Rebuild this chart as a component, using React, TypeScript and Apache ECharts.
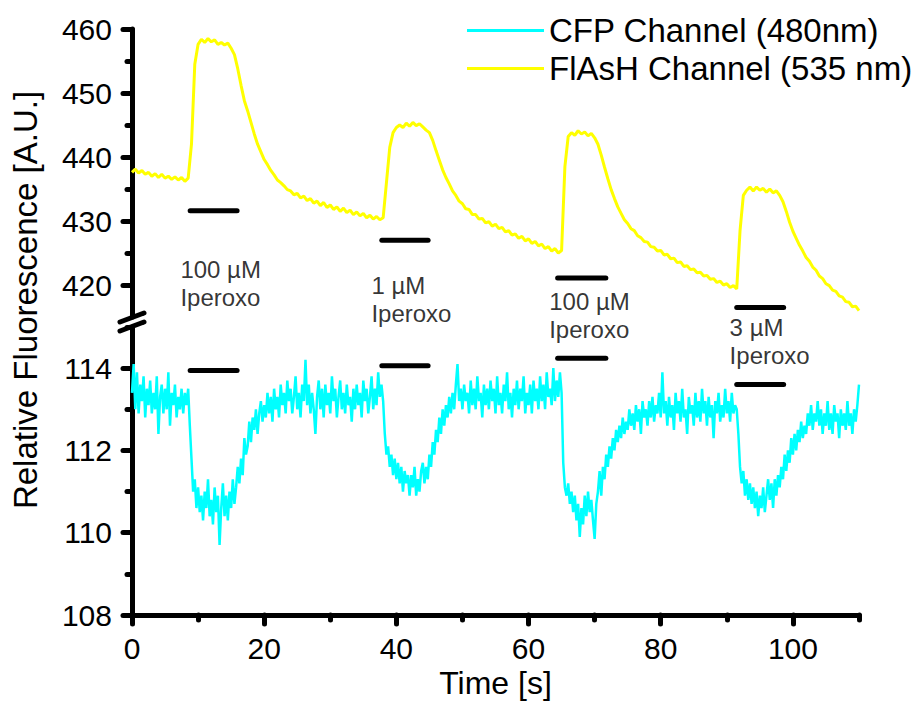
import React, { useEffect, useRef } from "react";
import * as echarts from "echarts";

// ---------- data ----------
const FLASH_STEP = 0.5; // seconds between FlAsH samples, starting at t = 0
const CFP_STEP = 0.25; // seconds between CFP samples, starting at t = 0

// FlAsH channel (535 nm), upper axis segment
const flashValues = [
  437.6, 438.1, 437.5, 437.9, 437.3, 437.6, 437.0, 437.4, 436.8, 437.3,
  436.7, 437.0, 436.5, 436.9, 436.4, 436.8, 436.2, 436.7, 442.0, 454.5,
  457.6, 458.4, 457.9, 458.5, 458.0, 458.3, 457.6, 457.9, 457.5, 457.8,
  457.0, 456.0, 453.8, 451.2, 448.8, 447.2, 445.4, 443.6, 442.0, 440.8,
  439.6, 438.8, 437.9, 437.2, 436.4, 436.0, 435.5, 434.9, 434.7, 434.1,
  434.3, 433.6, 433.9, 433.2, 433.5, 432.8, 433.1, 432.4, 432.9, 432.1,
  432.5, 431.8, 432.2, 431.5, 432.0, 431.3, 431.7, 431.0, 431.4, 430.8,
  431.2, 430.5, 430.9, 430.3, 430.7, 430.2, 430.5, 436.0, 441.5, 443.8,
  444.6, 445.0, 444.6, 445.3, 444.8, 445.4, 444.9, 445.2, 444.7, 444.2,
  443.8, 442.6, 441.0, 439.5, 438.0, 436.8, 435.8, 434.7, 434.0, 433.1,
  432.7, 431.9, 431.8, 431.0, 431.0, 430.3, 430.4, 429.7, 429.9, 429.2,
  429.5, 428.8, 429.0, 428.3, 428.5, 427.8, 428.0, 427.3, 427.6, 426.9,
  427.2, 426.5, 426.8, 426.1, 426.4, 425.7, 426.0, 425.3, 425.7, 425.0,
  425.4, 438.5, 443.2, 443.8, 443.4, 444.1, 443.6, 443.9, 443.3, 443.7,
  443.0, 442.0, 440.3, 438.4, 436.6, 434.9, 433.5, 432.2, 431.2, 430.2,
  429.6, 428.8, 428.5, 427.7, 427.4, 426.8, 426.7, 426.0, 425.9, 425.3,
  425.4, 424.7, 424.8, 424.1, 424.2, 423.5, 423.6, 422.9, 423.0, 422.4,
  422.5, 421.9, 422.0, 421.4, 421.5, 420.9, 421.0, 420.4, 420.6, 420.0,
  420.2, 419.6, 419.9, 419.4, 428.5, 434.0, 434.8, 435.3, 434.7, 435.3,
  434.8, 435.1, 434.5, 435.0, 434.4, 434.7, 434.0, 433.0, 431.5, 429.8,
  428.4, 427.3, 426.2, 425.3, 424.3, 423.7, 422.8, 422.3, 421.4, 421.0,
  420.2, 419.9, 419.2, 419.0, 418.3, 418.1, 417.4, 417.3, 416.6, 416.7,
  416.0,
];

// CFP channel (480 nm), lower axis segment
const cfpValues = [
  113.4, 114.1, 113.0, 113.9, 112.9, 113.6, 113.2, 113.8,
  112.8, 113.5, 113.1, 113.7, 112.9, 113.4, 113.0, 113.8,
  112.4, 113.3, 113.6, 112.9, 113.5, 113.0, 113.9, 112.6,
  113.4, 113.1, 113.6, 112.8, 113.3, 113.0, 113.5, 112.9,
  113.4, 113.1, 113.5, 112.6, 111.8, 111.0, 111.3, 110.6,
  111.1, 110.5, 110.9, 110.3, 111.0, 110.6, 111.3, 110.4,
  110.8, 110.2, 111.1, 110.5, 110.9, 109.7, 110.6, 111.2,
  110.4, 110.9, 110.3, 111.0, 110.6, 111.3, 110.7, 111.1,
  111.6, 111.2, 111.8, 111.4, 112.3, 111.9, 112.1, 112.7,
  112.2, 112.8, 112.5, 113.0, 112.4, 112.9, 113.2, 112.7,
  113.1, 112.8, 113.4, 112.9, 113.3, 112.7, 113.5, 113.0,
  113.3, 112.8, 113.6, 113.1, 113.4, 112.9, 113.7, 113.2,
  113.5, 112.9, 113.3, 113.8, 113.0, 113.4, 112.8, 113.6,
  113.2, 114.2, 113.1, 113.6, 112.9, 113.4, 113.0, 112.4,
  113.3, 113.7, 113.0, 113.5, 112.8, 113.6, 113.1, 113.4,
  112.9, 113.8, 113.2, 113.5, 112.8, 113.3, 113.7, 113.0,
  113.4, 112.9, 113.6, 113.1, 113.3, 112.7, 113.5, 113.0,
  113.6, 113.1, 113.4, 112.8, 113.7, 113.2, 113.5, 112.9,
  113.3, 113.8, 113.0, 113.5, 113.1, 113.9, 113.3, 113.6,
  113.2, 112.4, 111.9, 112.1, 111.6, 111.9, 111.4, 111.8,
  111.3, 111.7, 111.2, 111.6, 111.0, 111.5, 111.2, 111.4,
  110.9, 111.4, 111.1, 111.6, 110.9, 111.3, 111.0, 111.5,
  111.7, 111.2, 111.6, 111.3, 111.9, 111.6, 112.2, 111.9,
  112.5, 112.2, 112.8, 112.4, 113.0, 112.6, 113.1, 112.8,
  113.3, 112.9, 113.4, 113.0, 113.6, 114.1, 113.2, 113.5,
  113.0, 113.6, 113.2, 113.4, 112.9, 113.7, 113.1, 113.5,
  113.0, 113.8, 113.2, 113.4, 112.8, 113.6, 113.1, 113.5,
  113.0, 113.7, 113.2, 113.5, 112.9, 113.8, 113.1, 113.4,
  112.9, 113.6, 113.2, 113.9, 113.0, 113.4, 112.8, 113.5,
  113.1, 113.7, 113.0, 113.5, 113.2, 113.8, 112.9, 113.4,
  113.1, 113.6, 112.9, 113.7, 113.2, 113.5, 113.0, 113.8,
  113.2, 113.6, 113.0, 113.9, 113.3, 113.5, 113.1, 114.0,
  113.2, 113.7, 113.3, 113.9, 113.4, 111.7, 111.1, 110.9,
  111.2, 110.7, 111.0, 110.5, 110.9, 110.3, 110.7, 109.9,
  110.6, 110.2, 110.9, 110.4, 111.0, 110.5, 110.8, 110.3,
  109.85, 110.7, 111.0, 111.5, 110.9, 111.6, 111.3, 111.9,
  111.6, 112.1, 111.8, 112.3, 112.0, 112.5, 112.2, 112.6,
  112.3, 112.8, 112.4, 112.7, 112.5, 113.0, 112.6, 112.9,
  112.5, 113.1, 112.7, 113.0, 112.4, 113.2, 112.8, 113.0,
  112.6, 113.2, 112.8, 113.3, 112.7, 113.1, 112.9, 113.4,
  112.8, 113.9, 112.9, 113.2, 112.6, 113.3, 112.8, 113.1,
  112.5, 113.4, 112.9, 113.2, 112.7, 113.5, 112.8, 113.0,
  112.4, 113.3, 112.9, 113.1, 112.6, 113.4, 112.8, 113.2,
  112.7, 113.5, 112.9, 113.2, 112.6, 113.3, 112.8, 113.1,
  112.3, 113.2, 112.9, 113.4, 112.7, 113.1, 112.8, 113.5,
  112.9, 113.2, 112.7, 113.4, 112.9, 113.1, 113.0, 112.4,
  111.6, 111.2, 111.5, 110.9, 111.3, 110.8, 111.2, 110.7,
  111.1, 110.6, 111.0, 110.4, 110.9, 110.6, 111.1, 110.5,
  110.9, 111.3, 110.8, 111.2, 110.6, 111.3, 110.9, 111.4,
  111.1, 111.6, 111.3, 111.9, 111.5, 112.0, 111.7, 112.3,
  111.9, 112.4, 112.0, 112.5, 112.2, 112.7, 112.3, 112.6,
  112.4, 112.9, 112.6, 113.1, 112.5, 112.9, 112.7, 113.2,
  112.6, 113.0, 112.4, 112.9, 112.6, 113.2, 112.5, 112.9,
  112.4, 113.1, 112.7, 112.9, 112.3, 113.0, 112.6, 112.9,
  112.5, 113.2, 112.6, 112.9, 112.4, 113.0, 112.7, 113.1,
  113.6,
];

const seriesNames = ["CFP Channel (480nm)", "FlAsH Channel (535 nm)"];

// axis ticks
const xMajorTicks = [0, 20, 40, 60, 80, 100];
const xMinorTicks = [10, 30, 50, 70, 90, 110];
const upperMajorTicks = [420, 430, 440, 450, 460];
const upperMinorTicks = [425, 435, 445, 455];
const lowerMajorTicks = [108, 110, 112, 114];
const lowerMinorTicks = [109, 111, 113, 115];

// application bars (seconds) and their heights on each segment
const barStart = [8.8, 37.8, 64.4, 91.5];
const barEnd = [15.9, 44.8, 71.7, 98.6];
const barUpperY = [431.6, 427.0, 421.1, 416.5];
const barLowerY = [113.94, 114.06, 114.24, 113.6];

// annotation labels (upper-segment coordinates)
const annotationText = ["100 µM\nIperoxo", "1 µM\nIperoxo", "100 µM\nIperoxo", "3 µM\nIperoxo"];
const annotationX = [7.4, 36.3, 63.2, 90.5];
const annotationY = [420.2, 417.7, 415.1, 411.1];

// ---------- chart ----------
const FONT = "'Liberation Sans', Arial, Helvetica, sans-serif";
const BLACK = "#000000";

export default function App() {
  const ref = useRef<HTMLDivElement>(null);

  useEffect(() => {
    document.body.style.margin = "0";
    if (!ref.current) return;
    const chart = echarts.init(ref.current, undefined, { renderer: "svg" });

    const toPairs = (vals: number[], step: number) => vals.map((v, i) => [i * step, v]);

    const axisLine = { show: true, onZero: false, lineStyle: { color: BLACK, width: 5, cap: "round" } };
    const tickStyle = { color: BLACK, width: 5, cap: "round" };
    const labelStyle = { color: BLACK, fontSize: 30, fontFamily: FONT };

    const barSeries: any[] = [];
    barStart.forEach((s, i) => {
      barSeries.push({
        type: "line",
        xAxisIndex: 0,
        yAxisIndex: 0,
        data: [[s, barUpperY[i]], [barEnd[i], barUpperY[i]]],
        symbol: "none",
        silent: true,
        z: 5,
        lineStyle: { color: BLACK, width: 5, cap: "round" },
      });
      barSeries.push({
        type: "line",
        xAxisIndex: 1,
        yAxisIndex: 2,
        data: [[s, barLowerY[i]], [barEnd[i], barLowerY[i]]],
        symbol: "none",
        silent: true,
        z: 5,
        lineStyle: { color: BLACK, width: 5, cap: "round" },
      });
    });

    const option: any = {
      animation: false,
      backgroundColor: "#ffffff",
      legend: {
        data: seriesNames,
        orient: "vertical",
        left: 462,
        top: 9,
        icon: "rect",
        itemWidth: 77,
        itemHeight: 3,
        itemGap: 5,
        textStyle: { fontSize: 33, fontFamily: FONT, color: BLACK },
      },
      grid: [
        { left: 132, top: 29, width: 727, height: 288 },
        { left: 132, top: 327, width: 727, height: 288 },
      ],
      xAxis: [
        { gridIndex: 0, type: "value", min: 0, max: 110, show: false },
        {
          gridIndex: 1,
          type: "value",
          min: 0,
          max: 110,
          position: "bottom",
          axisLine,
          axisTick: { show: true, customValues: xMajorTicks, length: 9, lineStyle: tickStyle },
          axisLabel: { show: true, customValues: xMajorTicks, margin: 18, ...labelStyle },
          splitLine: { show: false },
          name: "Time [s]",
          nameLocation: "middle",
          nameGap: 52,
          nameTextStyle: { fontSize: 32, fontFamily: FONT, color: BLACK },
        },
        {
          gridIndex: 1,
          type: "value",
          min: 0,
          max: 110,
          position: "bottom",
          axisLine: { show: false },
          axisTick: { show: true, customValues: xMinorTicks, length: 5, lineStyle: tickStyle },
          axisLabel: { show: false },
          splitLine: { show: false },
        },
      ],
      yAxis: [
        {
          gridIndex: 0,
          type: "value",
          min: 415,
          max: 460,
          position: "left",
          axisLine,
          axisTick: { show: true, customValues: upperMajorTicks, length: 9, lineStyle: tickStyle },
          axisLabel: { show: true, customValues: upperMajorTicks, margin: 20, ...labelStyle },
          splitLine: { show: false },
        },
        {
          gridIndex: 0,
          type: "value",
          min: 415,
          max: 460,
          position: "left",
          axisLine: { show: false },
          axisTick: { show: true, customValues: upperMinorTicks, length: 5, lineStyle: tickStyle },
          axisLabel: { show: false },
          splitLine: { show: false },
        },
        {
          gridIndex: 1,
          type: "value",
          min: 108,
          max: 115,
          position: "left",
          axisLine,
          axisTick: { show: true, customValues: lowerMajorTicks, length: 9, lineStyle: tickStyle },
          axisLabel: { show: true, customValues: lowerMajorTicks, margin: 20, ...labelStyle },
          splitLine: { show: false },
        },
        {
          gridIndex: 1,
          type: "value",
          min: 108,
          max: 115,
          position: "left",
          axisLine: { show: false },
          axisTick: { show: true, customValues: lowerMinorTicks, length: 5, lineStyle: tickStyle },
          axisLabel: { show: false },
          splitLine: { show: false },
        },
      ],
      graphic: [
        {
          type: "text",
          x: 25,
          y: 300,
          rotation: Math.PI / 2,
          style: {
            text: "Relative Fluorescence [A.U.]",
            fontSize: 33,
            fontFamily: FONT,
            fill: BLACK,
            align: "center",
            verticalAlign: "middle",
          },
        },
        {
          type: "line",
          shape: { x1: 120, y1: 322, x2: 144, y2: 313 },
          style: { stroke: BLACK, lineWidth: 5, lineCap: "round" },
          z: 10,
        },
        {
          type: "line",
          shape: { x1: 120, y1: 331, x2: 144, y2: 322 },
          style: { stroke: BLACK, lineWidth: 5, lineCap: "round" },
          z: 10,
        },
      ],
      series: [
        {
          name: seriesNames[0],
          type: "line",
          xAxisIndex: 1,
          yAxisIndex: 2,
          data: toPairs(cfpValues, CFP_STEP),
          symbol: "none",
          showSymbol: false,
          lineStyle: { color: "#00FFFF", width: 2.5 },
          itemStyle: { color: "#00FFFF" },
          z: 3,
        },
        {
          name: seriesNames[1],
          type: "line",
          xAxisIndex: 0,
          yAxisIndex: 0,
          data: toPairs(flashValues, FLASH_STEP),
          symbol: "none",
          showSymbol: false,
          lineStyle: { color: "#FFFF00", width: 3 },
          itemStyle: { color: "#FFFF00" },
          z: 3,
        },
        ...barSeries,
        {
          type: "scatter",
          xAxisIndex: 0,
          yAxisIndex: 0,
          clip: false,
          silent: true,
          symbolSize: 1,
          itemStyle: { color: "transparent" },
          data: annotationX.map((x, i) => ({
            value: [x, annotationY[i]],
            label: { formatter: annotationText[i] },
          })),
          label: {
            show: true,
            position: [0, 0],
            align: "left",
            verticalAlign: "middle",
            fontSize: 24,
            lineHeight: 28,
            fontFamily: FONT,
            color: BLACK,
          },
          z: 6,
        },
      ],
    };

    chart.setOption(option);
    return () => chart.dispose();
  }, []);

  return <div ref={ref} style={{ width: 918, height: 702 }} />;
}
